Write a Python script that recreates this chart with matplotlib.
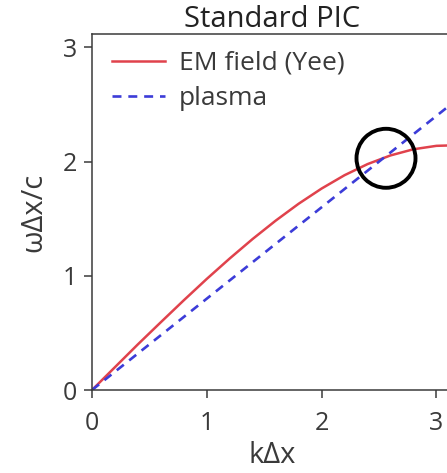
import matplotlib
matplotlib.use("Agg")
import matplotlib.pyplot as plt
from matplotlib.patches import Ellipse

# Dispersion relation values (normalized wavenumber vs normalized frequency)
k_dx = [0.0, 0.2, 0.4, 0.6, 0.8, 1.0, 1.2, 1.4, 1.6, 1.8, 2.0, 2.2, 2.4, 2.6, 2.8, 3.0, 3.2]
omega_yee = [0.0, 0.20, 0.40, 0.594, 0.786, 0.973, 1.152, 1.323, 1.483, 1.631,
             1.764, 1.881, 1.978, 2.054, 2.108, 2.138, 2.144]
k_plasma = [0.0, 3.2]
omega_plasma = [0.0, 2.56]

# Highlighted crossing region
cross_k = 2.561
cross_omega = 2.029

title = "Standard PIC"
xlabel = "kΔx"
ylabel = "ωΔx/c"
xticks = [0, 1, 2, 3]
yticks = [0, 1, 2, 3]

plt.rcParams["font.family"] = ["Open Sans", "DejaVu Sans"]

fig = plt.figure(figsize=(4.47, 4.73), dpi=100)
W, H = 447, 473
x0, y0 = 92, 390          # pixel position of the origin
px_x, px_y = 114.8, 114.2  # pixels per data unit
xmax, ymax = 3.1416, 3.117
ax = fig.add_axes([x0 / W, (H - y0) / H, xmax * px_x / W, ymax * px_y / H])

red = "#e0424c"
blue = "#3c3cd8"
ink = "#3a3a3a"
ax.plot(k_dx, omega_yee, color=red, lw=1.8, label="EM field (Yee)")
ax.plot(k_plasma, omega_plasma, color=blue, lw=1.9, dashes=(3.4, 2.6), label="plasma")

r_px = 29.5
ax.add_patch(Ellipse((cross_k, cross_omega), 2 * r_px / px_x, 2 * r_px / px_y,
                     fill=False, ec="black", lw=2.8, zorder=5))

ax.set_xlim(0, xmax)
ax.set_ylim(0, ymax)
ax.set_xticks(xticks)
ax.set_yticks(yticks)
ax.tick_params(direction="out", length=6, width=1.1, colors=ink,
               labelsize=18, labelcolor=ink)
ax.tick_params(axis="x", pad=9)
ax.tick_params(axis="y", pad=5)
for s in ax.spines.values():
    s.set_color(ink)
    s.set_linewidth(1.1)

ax.set_title(title, fontsize=21, color="#222222", pad=3)
ax.set_xlabel(xlabel, fontsize=21, color=ink, labelpad=4)
ax.set_ylabel(ylabel, fontsize=21, color=ink, labelpad=10)

leg = ax.legend(loc="upper left",
                bbox_to_anchor=(12 / (xmax * px_x), 1.0 - 9 / (ymax * px_y)),
                frameon=False, fontsize=19, handlelength=2.0,
                handletextpad=0.55, labelspacing=0.39, borderaxespad=0.0,
                borderpad=0.3)
for t in leg.get_texts():
    t.set_color(ink)

fig.savefig("out.png", dpi=100)
